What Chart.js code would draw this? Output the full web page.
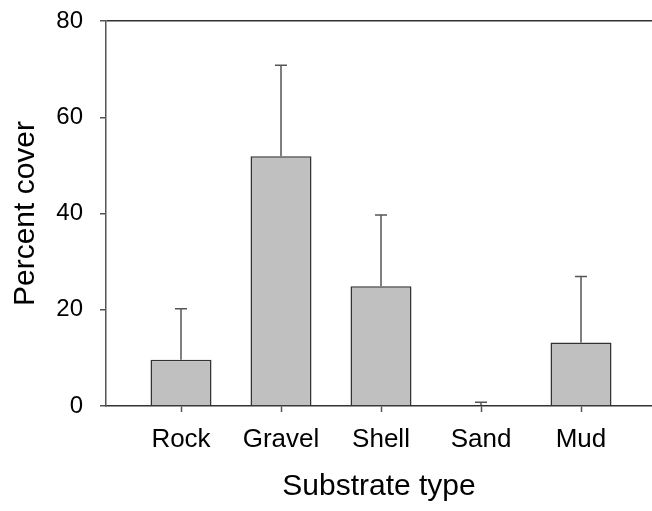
<!DOCTYPE html>
<html>
<head>
<meta charset="utf-8">
<script src="https://cdn.jsdelivr.net/npm/chart.js@4/dist/chart.umd.min.js"></script>
<style>
    body { margin:0; background:#ffffff; }
    canvas { display:block; }
</style>
</head>
<body>
<canvas id="canvasGraph1" width="652" height="511"></canvas>
<script>
var substrats = ["Rock", "Gravel", "Shell", "Sand", "Mud"];
var pourcentCouverture = [9.6, 51.9, 24.9, 0.2, 13.2];
var erreurHaute = [20.2, 70.8, 39.7, 0.8, 26.9];
var ticksY = [0, 20, 40, 60, 80];

// Barres d'erreur (seulement vers le haut)
var pluginErreurs =
{
    id: "erreurs",
    afterDatasetsDraw: function(chart)
    {
        var ctx = chart.ctx;
        var x = chart.scales.x;
        var y = chart.scales.y;
        ctx.save();
        ctx.strokeStyle = "#555555";
        ctx.lineWidth = 1.5;
        for (var i = 0; i < substrats.length; i++)
        {
            var px = x.getPixelForValue(i + 1);
            var yBas = y.getPixelForValue(pourcentCouverture[i]);
            var yHaut = y.getPixelForValue(erreurHaute[i]);
            ctx.beginPath();
            ctx.moveTo(px, yBas);
            ctx.lineTo(px, yHaut);
            ctx.moveTo(px - 6, yHaut);
            ctx.lineTo(px + 6, yHaut);
            ctx.stroke();
        }
        ctx.restore();
    }
};

function DessinerGraph1()
{
    var points = [];
    for (var i = 0; i < substrats.length; i++)
    {
        points.push({ x: i + 1, y: pourcentCouverture[i] });
    }

    var chartdata = {
        datasets: [
            {
                data: points,
                backgroundColor: "#c0c0c0",
                borderColor: "#333333",
                borderWidth: 1.5,
                borderSkipped: "bottom",
                barPercentage: 0.61,
                categoryPercentage: 1
            }
        ]
    };

    var graphTarget = document.getElementById("canvasGraph1");

    var barGraph = new Chart(graphTarget, {
        type: "bar",
        data: chartdata,
        plugins: [pluginErreurs],
        options: {
            responsive: false,
            animation: false,
            devicePixelRatio: 1,
            layout: { padding: { top: 21, right: 0, left: 0, bottom: 0 } },
            plugins: { legend: { display: false }, tooltip: { enabled: false } },
            scales: {
                x: {
                    type: "linear",
                    offset: false,
                    min: 0.25,
                    max: 5.71,
                    afterBuildTicks: function(scale)
                    {
                        scale.ticks = substrats.map(function(s, i) { return { value: i + 1 }; });
                    },
                    afterFit: function(scale)
                    {
                        scale.height = 105;
                        scale.paddingLeft = 0;
                        scale.paddingRight = 0;
                    },
                    ticks: {
                        autoSkip: false,
                        maxRotation: 0,
                        padding: 12,
                        color: "#000000",
                        font: { family: "Liberation Sans", size: 26 },
                        callback: function(v) { return substrats[v - 1]; }
                    },
                    grid: { offset: false, drawOnChartArea: false, tickLength: 6, tickColor: "#555555", tickWidth: 1.5 },
                    border: { color: "#333333", width: 1.5 },
                    title: {
                        display: true,
                        text: "Substrate type",
                        color: "#000000",
                        font: { family: "Liberation Sans", size: 30 },
                        padding: { top: 0, bottom: 6 }
                    }
                },
                y: {
                    min: 0,
                    max: 80,
                    afterBuildTicks: function(scale)
                    {
                        scale.ticks = ticksY.map(function(v) { return { value: v }; });
                    },
                    afterFit: function(scale)
                    {
                        scale.width = 106;
                        scale.paddingTop = 0;
                        scale.paddingBottom = 0;
                    },
                    ticks: {
                        padding: 17,
                        color: "#000000",
                        font: { family: "Liberation Sans", size: 24 }
                    },
                    grid: {
                        color: function(c) { return c.tick && c.tick.value === 80 ? "#333333" : "rgba(0,0,0,0)"; },
                        lineWidth: 1.5,
                        tickLength: 6,
                        tickColor: "#555555",
                        tickWidth: 1.5
                    },
                    border: { color: "#555555", width: 1.5 },
                    title: {
                        display: true,
                        text: "Percent cover",
                        color: "#000000",
                        font: { family: "Liberation Sans", size: 30 },
                        padding: { top: 8, bottom: 0 }
                    }
                }
            }
        }
    });
}

DessinerGraph1();
</script>
</body>
</html>
